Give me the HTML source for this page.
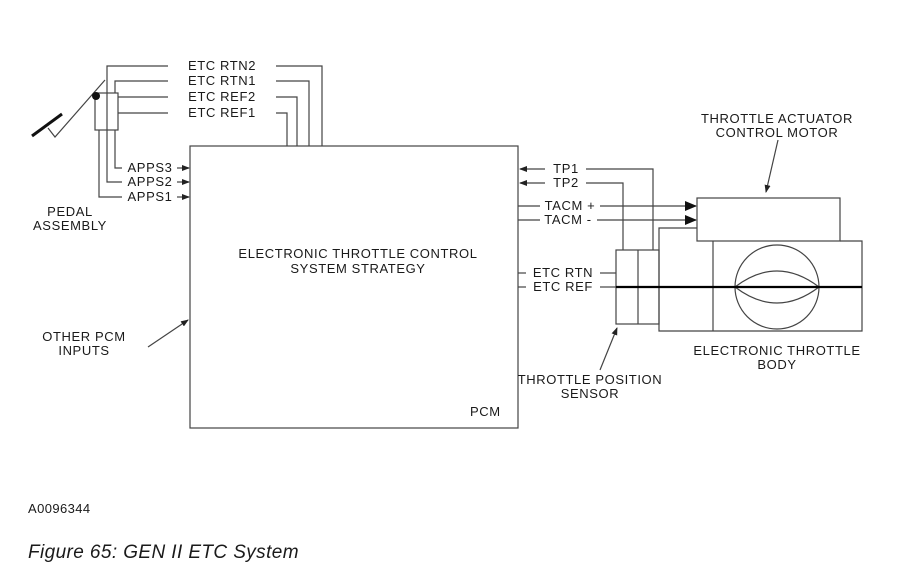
<!DOCTYPE html>
<html><head><meta charset="utf-8"><style>
html,body{margin:0;padding:0;background:#fff}
svg{display:block}
text{font-family:"Liberation Sans",Arial,sans-serif;font-size:13px;letter-spacing:0.6px;fill:#1a1a1a}
</style></head><body>
<svg width="900" height="576" viewBox="0 0 900 576" xmlns="http://www.w3.org/2000/svg">
<defs>
<marker id="a" markerWidth="8" markerHeight="6" refX="7" refY="3" orient="auto" markerUnits="userSpaceOnUse"><path d="M0,0 L8,3 L0,6z" fill="#222"/></marker>
<marker id="b" markerWidth="12" markerHeight="10" refX="11" refY="5" orient="auto" markerUnits="userSpaceOnUse"><path d="M0,0 L12,5 L0,10z" fill="#111"/></marker>
</defs>
<g stroke="#444" stroke-width="1.2" fill="none">
<rect x="190" y="146" width="328" height="282"/>
<line x1="32" y1="136" x2="62" y2="114" stroke="#111" stroke-width="3"/>
<polyline points="105,80 55,137 48,128"/>
<rect x="95" y="93" width="23" height="37"/>
<line x1="107" y1="93" x2="107" y2="130"/>
<polyline points="107,93 107,66 168,66"/><polyline points="276,66 322,66 322,146"/>
<polyline points="115,93 115,81 168,81"/><polyline points="276,81 309,81 309,146"/>
<polyline points="118,97 168,97"/><polyline points="276,97 297,97 297,146"/>
<polyline points="118,113 168,113"/><polyline points="276,113 287,113 287,146"/>
<polyline points="115,130 115,168 122,168"/>
<polyline points="107,130 107,182 122,182"/>
<polyline points="99,130 99,197 122,197"/>
<line x1="177" y1="168" x2="189" y2="168" marker-end="url(#a)"/>
<line x1="177" y1="182" x2="189" y2="182" marker-end="url(#a)"/>
<line x1="177" y1="197" x2="189" y2="197" marker-end="url(#a)"/>
<line x1="148" y1="347" x2="188" y2="320" marker-end="url(#a)"/>
<line x1="545" y1="169" x2="520" y2="169" marker-end="url(#a)"/>
<polyline points="586,169 653,169 653,250"/>
<line x1="545" y1="183" x2="520" y2="183" marker-end="url(#a)"/>
<polyline points="586,183 623,183 623,250"/>
<line x1="518" y1="206" x2="540" y2="206"/><line x1="600" y1="206" x2="696" y2="206" marker-end="url(#b)"/>
<line x1="518" y1="220" x2="540" y2="220"/><line x1="597" y1="220" x2="696" y2="220" marker-end="url(#b)"/>
<line x1="518" y1="273" x2="526" y2="273"/><line x1="600" y1="273" x2="616" y2="273"/>
<line x1="518" y1="287" x2="526" y2="287"/><line x1="600" y1="287" x2="616" y2="287"/>
<rect x="616" y="250" width="43" height="74"/>
<line x1="638" y1="250" x2="638" y2="324"/>
<polyline points="697,228 659,228 659,331 862,331 862,241 840,241"/>
<line x1="713" y1="241" x2="713" y2="331"/>
<rect x="697" y="198" width="143" height="43"/>
<circle cx="777" cy="287" r="42"/>
<path d="M735,287 Q777,255 819,287 Q777,319 735,287"/>
<line x1="616" y1="287" x2="862" y2="287" stroke="#000" stroke-width="2.2"/>
<line x1="778" y1="140" x2="766" y2="192" marker-end="url(#a)"/>
<line x1="600" y1="370" x2="617" y2="328" marker-end="url(#a)"/>
</g>
<circle cx="96" cy="96" r="4" fill="#111"/>
<g text-anchor="middle">
<text x="222" y="70">ETC RTN2</text>
<text x="222" y="85">ETC RTN1</text>
<text x="222" y="101">ETC REF2</text>
<text x="222" y="117">ETC REF1</text>
<text x="150" y="172">APPS3</text>
<text x="150" y="186">APPS2</text>
<text x="150" y="201">APPS1</text>
<text x="70" y="216">PEDAL</text>
<text x="70" y="230">ASSEMBLY</text>
<text x="358" y="258">ELECTRONIC THROTTLE CONTROL</text>
<text x="358" y="273">SYSTEM STRATEGY</text>
<text x="84" y="341">OTHER PCM</text>
<text x="84" y="355">INPUTS</text>
<text x="566" y="173">TP1</text>
<text x="566" y="187">TP2</text>
<text x="570" y="210">TACM +</text>
<text x="568" y="224">TACM -</text>
<text x="563" y="277">ETC RTN</text>
<text x="563" y="291">ETC REF</text>
<text x="777" y="123">THROTTLE ACTUATOR</text>
<text x="777" y="137">CONTROL MOTOR</text>
<text x="777" y="355">ELECTRONIC THROTTLE</text>
<text x="777" y="369">BODY</text>
<text x="590" y="384">THROTTLE POSITION</text>
<text x="590" y="398">SENSOR</text>
</g>
<text x="470" y="416">PCM</text>
<text x="28" y="513" style="font-size:13px;letter-spacing:0.4px">A0096344</text>
<text x="28" y="558" style="font-size:19px;letter-spacing:0.4px;font-style:italic">Figure 65: GEN II ETC System</text>
</svg>
</body></html>
